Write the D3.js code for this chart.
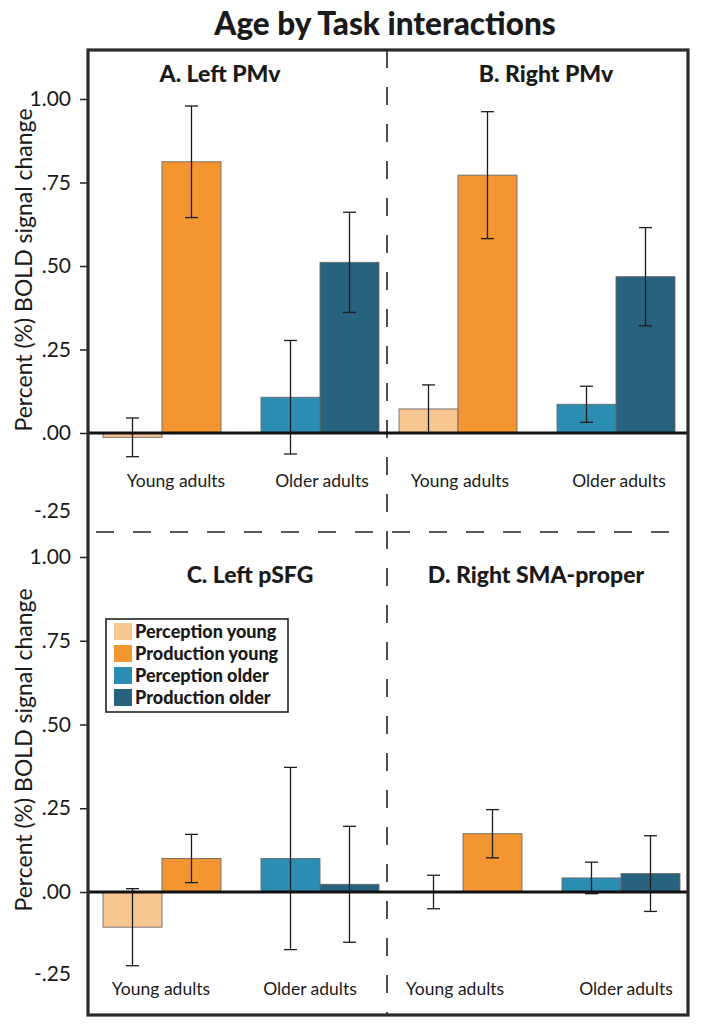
<!DOCTYPE html>
<html>
<head>
<meta charset="utf-8">
<script src="https://cdn.jsdelivr.net/npm/d3@7"></script>
<style>
  html, body { margin: 0; padding: 0; background: #fff; }
  svg { display: block; }
  text { font-family: Lato, "Open Sans", sans-serif; fill: #1a1a1a; }
</style>
</head>
<body>
<svg id="chart" width="704" height="1030"></svg>
<script>
// ---------------- DATA ----------------
const chartTitle = "Age by Task interactions";
const panelTitles = ["A. Left PMv", "B. Right PMv", "C. Left pSFG", "D. Right SMA-proper"];
const groups = ["Young adults", "Older adults"];
const seriesNames = ["Perception young", "Production young", "Perception older", "Production older"];
const yTicks = [-0.25, 0, 0.25, 0.5, 0.75, 1.0];
const yTitle = "Percent (%) BOLD signal change";

// mean values per panel, order: Perception young, Production young, Perception older, Production older
const meansA = [-0.013, 0.812, 0.107, 0.511];
const meansB = [0.072, 0.772, 0.086, 0.468];
const meansC = [-0.105, 0.100, 0.100, 0.023];
const meansD = [0.000, 0.174, 0.042, 0.055];
// error bar half-lengths
const errsA = [0.058, 0.167, 0.170, 0.150];
const errsB = [0.072, 0.190, 0.054, 0.147];
const errsC = [0.115, 0.072, 0.272, 0.173];
const errsD = [0.050, 0.072, 0.047, 0.113];

const panelMeans = [meansA, meansB, meansC, meansD];
const panelErrs = [errsA, errsB, errsC, errsD];

// ---------------- STYLE / LAYOUT ----------------
const colors = ["#f8c691", "#f39531", "#2a8db1", "#27637f"];
const frame = { x0: 88, y0: 50, x1: 688, y1: 1015 };
const midX = 387, midY = 532;
const rows = [
  { yRange: [516.5, 99], titleY: 82, labelY: 487, yTitleY: 270, negDy: -6 },
  { yRange: [975.75, 557], titleY: 583, labelY: 995, yTitleY: 750, negDy: -2 }
];
const panelLayout = [
  { row: 0, barRange: [103, 379], titleX: 220, labelDx: [14, 2] },
  { row: 0, barRange: [399, 675], titleX: 546, labelDx: [2, 3] },
  { row: 1, barRange: [103, 379], titleX: 250, labelDx: [-1, -10] },
  { row: 1, barRange: [404, 680], titleX: 536, labelDx: [-8, 5] }
];

const svg = d3.select("#chart");

// title
svg.append("text")
  .attr("x", 385).attr("y", 35)
  .attr("text-anchor", "middle")
  .style("font-weight", 900).style("font-size", "31.5px")
  .text(chartTitle);

// y scales per row and axes
const yScales = rows.map(r => d3.scaleLinear().domain([-0.25, 1]).range(r.yRange));
const fmt = d => d3.format(".2f")(d).replace("0.", ".").replace("\u2212", "-");

yScales.forEach((y, ri) => {
  const g = svg.append("g").attr("transform", `translate(${frame.x0},0)`)
    .call(d3.axisLeft(y).tickValues(yTicks).tickFormat(fmt).tickSize(8).tickPadding(9));
  g.select(".domain").remove();
  g.selectAll(".tick line").attr("stroke", "#222").attr("stroke-width", 1.5)
    .filter(d => d < 0).remove();
  g.selectAll(".tick text")
    .style("font-family", "Lato, 'Open Sans', sans-serif")
    .style("font-size", "21px").attr("fill", "#1a1a1a");
  g.selectAll(".tick").filter(d => d < 0).select("text")
    .attr("transform", `translate(0,${rows[ri].negDy})`);
  // y title
  svg.append("text")
    .attr("transform", `translate(32,${rows[ri].yTitleY}) rotate(-90)`)
    .attr("text-anchor", "middle")
    .style("font-size", "23px")
    .text(yTitle);
});

// dividers
svg.append("line")
  .attr("x1", midX).attr("x2", midX).attr("y1", frame.y0).attr("y2", frame.y1)
  .attr("stroke", "#222").attr("stroke-width", 1.6).attr("stroke-dasharray", "18,19");
svg.append("line")
  .attr("x1", frame.x0).attr("x2", frame.x1).attr("y1", midY).attr("y2", midY)
  .attr("stroke", "#222").attr("stroke-width", 1.6).attr("stroke-dasharray", "18,19")
  .attr("stroke-dashoffset", -8);

// panels
panelLayout.forEach((pl, pi) => {
  const y = yScales[pl.row];
  const row = rows[pl.row];
  const xg = d3.scaleBand().domain(groups).range(pl.barRange).paddingInner(0.2532).paddingOuter(0);
  const xs = d3.scaleBand().domain([0, 1]).range([0, xg.bandwidth()]).padding(0);
  const g = svg.append("g");

  const data = seriesNames.map((s, i) => ({
    series: s, i, group: groups[Math.floor(i / 2)], sub: i % 2,
    v: panelMeans[pi][i], e: panelErrs[pi][i]
  }));

  g.selectAll("rect.bar").data(data).join("rect")
    .attr("class", "bar")
    .attr("x", d => xg(d.group) + xs(d.sub))
    .attr("width", xs.bandwidth())
    .attr("y", d => Math.min(y(d.v), y(0)))
    .attr("height", d => Math.abs(y(d.v) - y(0)))
    .attr("fill", d => colors[d.i])
    .attr("stroke", d => d.v === 0 ? "none" : "#6b6b6b")
    .attr("stroke-width", 0.9);

  const eb = g.selectAll("g.err").data(data).join("g").attr("class", "err")
    .attr("transform", d => `translate(${xg(d.group) + xs(d.sub) + xs.bandwidth() / 2},0)`);
  eb.append("line")
    .attr("y1", d => y(d.v + d.e)).attr("y2", d => y(d.v - d.e))
    .attr("stroke", "#1c1c1c").attr("stroke-width", 1.3);
  eb.selectAll("line.cap").data(d => [d.v + d.e, d.v - d.e]).join("line")
    .attr("class", "cap")
    .attr("x1", -6.5).attr("x2", 6.5)
    .attr("y1", v => y(v)).attr("y2", v => y(v))
    .attr("stroke", "#1c1c1c").attr("stroke-width", 1.3);

  // panel title
  svg.append("text")
    .attr("x", pl.titleX).attr("y", row.titleY)
    .attr("text-anchor", "middle")
    .style("font-weight", 900).style("font-size", "23px")
    .text(panelTitles[pi]);

  // group labels
  g.selectAll("text.glab").data(groups).join("text")
    .attr("class", "glab")
    .attr("x", (d, k) => xg(d) + xg.bandwidth() / 2 + pl.labelDx[k])
    .attr("y", row.labelY)
    .attr("text-anchor", "middle")
    .style("font-size", "17.5px")
    .text(d => d);
});

// zero lines
yScales.forEach(y => {
  svg.append("line")
    .attr("x1", frame.x0).attr("x2", frame.x1)
    .attr("y1", y(0)).attr("y2", y(0))
    .attr("stroke", "#111").attr("stroke-width", 3);
});

// frame
svg.append("rect")
  .attr("x", frame.x0).attr("y", frame.y0)
  .attr("width", frame.x1 - frame.x0).attr("height", frame.y1 - frame.y0)
  .attr("fill", "none").attr("stroke", "#2a2a2a").attr("stroke-width", 3.2);

// legend
const lg = svg.append("g").attr("transform", "translate(106,619)");
lg.append("rect").attr("width", 182).attr("height", 93)
  .attr("fill", "#fff").attr("stroke", "#222").attr("stroke-width", 1.6);
const li = lg.selectAll("g.li").data(seriesNames).join("g").attr("class", "li")
  .attr("transform", (d, i) => `translate(8,${4 + i * 22})`);
li.append("rect").attr("width", 18).attr("height", 17).attr("fill", (d, i) => colors[i]);
li.append("text").attr("x", 21).attr("y", 14.5)
  .style("font-weight", 900).style("font-size", "18px")
  .text(d => d);
</script>
</body>
</html>
